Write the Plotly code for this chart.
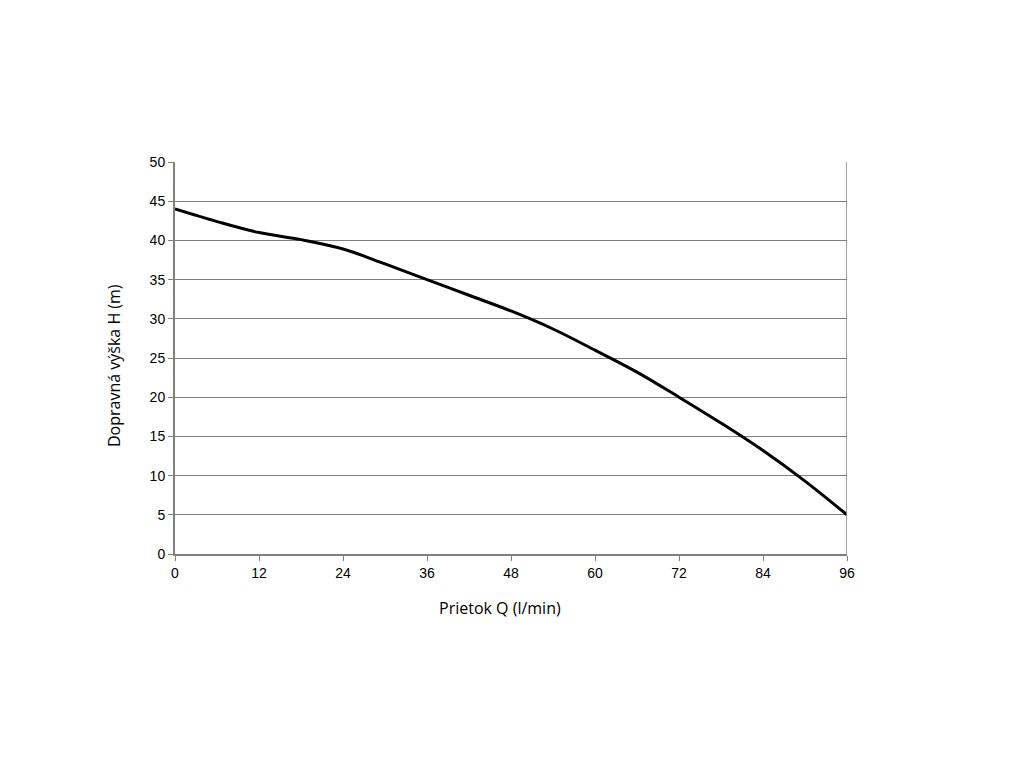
import plotly.graph_objects as go

flow_q = [0, 6, 12, 18, 24, 30, 36, 42, 48, 54, 60, 66, 72, 78, 84, 90, 96]
head_h = [44, 42.4, 41.0, 40.1, 38.9, 37.0, 35.0, 33.0, 31.0, 28.7, 26.0, 23.2, 20.0, 16.7, 13.2, 9.3, 5.0]

x_ticks = [0, 12, 24, 36, 48, 60, 72, 84, 96]
y_ticks = [0, 5, 10, 15, 20, 25, 30, 35, 40, 45, 50]

x_title = "Prietok Q (l/min)"
y_title = "Dopravná výška H (m)"

fig = go.Figure()
fig.add_trace(go.Scatter(
    x=flow_q, y=head_h, mode="lines",
    line=dict(color="#000000", width=3, shape="spline", smoothing=1.0),
    showlegend=False, hoverinfo="skip"))

fig.update_layout(
    width=1024, height=768,
    margin=dict(l=167, r=185, t=154, b=222),
    paper_bgcolor="white", plot_bgcolor="white",
    font=dict(family="Liberation Sans, Arial, sans-serif", size=14, color="#000000"),
)
fig.update_xaxes(
    range=[0, 96], tickvals=x_ticks, ticktext=[str(v) for v in x_ticks],
    showgrid=False, zeroline=False,
    showline=True, linecolor="#808080", linewidth=2, mirror=False,
    ticks="outside", ticklen=5, tickcolor="#808080", tickwidth=1,
)
fig.update_yaxes(
    range=[0, 50], tickvals=y_ticks, ticktext=[str(v) for v in y_ticks],
    showgrid=True, gridcolor="#808080", gridwidth=1, zeroline=False,
    showline=True, linecolor="#808080", linewidth=2,
    ticks="outside", ticklen=5, tickcolor="#808080", tickwidth=1,
)
fig.add_annotation(text=x_title, xref="paper", yref="paper", x=0.5, y=0,
                   xanchor="center", yanchor="middle", showarrow=False,
                   xshift=-11, yshift=-54,
                   font=dict(family="Open Sans, sans-serif", size=16, color="#000000"))
fig.add_annotation(text=y_title, xref="paper", yref="paper", x=0, y=0.5,
                   xanchor="center", yanchor="middle", showarrow=False, textangle=-90,
                   xshift=-61, yshift=-8,
                   font=dict(family="Open Sans, sans-serif", size=16, color="#000000"))
# right border line of the plot area
fig.add_shape(type="line", xref="x", yref="paper", x0=96, x1=96, y0=0, y1=1,
              line=dict(color="#808080", width=1.5))

fig.write_html("out.html")
